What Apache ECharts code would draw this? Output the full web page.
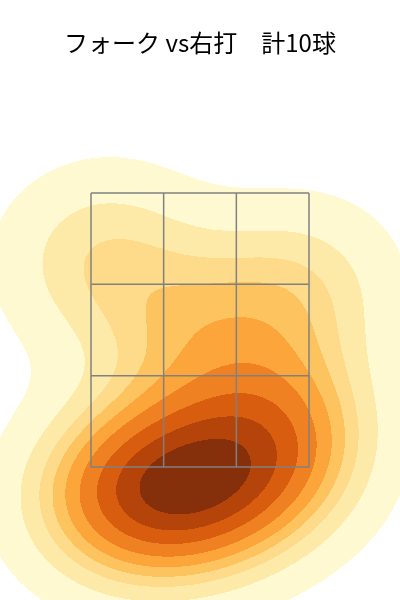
<!DOCTYPE html>
<html>
<head>
<meta charset="utf-8">
<script src="https://cdn.jsdelivr.net/npm/echarts@6/dist/echarts.min.js"></script>
<style>
  html, body { margin: 0; padding: 0; background: #fff; }
  #main { width: 400px; height: 600px; }
</style>
</head>
<body>
<div id="main"></div>
<script>
  // pitch locations (cm) : horizontal / height
  var pitchX = [-20, -3, 19, 15, -18, -12, -6, 0, 7, 16];
  var pitchY = [89, 74, 82, 59, 42, 40, 44, 41, 45, 48];

  // strike zone lines (cm)
  var zoneX = [-21.8, -7.27, 7.27, 21.8];
  var zoneY = [46.6, 64.87, 83.13, 101.4];

  // contour bands, light -> dark
  var bandColors = ['#fff9d2', '#feeaa8', '#fedb8a', '#fdc35f', '#fca53a',
                    '#f08122', '#d95d0e', '#b5440a', '#862f0b'];

  var xRange = [-40, 40];
  var yRange = [20, 120];
  var bwAdjust = [1.4, 0.95];
  var STEP = 0.2;

  // gaussian kde (scott rule)
  function makeKde(xs, ys) {
    var n = xs.length, mx = 0, my = 0;
    for (var i = 0; i < n; i++) { mx += xs[i]; my += ys[i]; }
    mx /= n; my /= n;
    var sxx = 0, syy = 0, sxy = 0;
    for (var i = 0; i < n; i++) {
      sxx += (xs[i] - mx) * (xs[i] - mx);
      syy += (ys[i] - my) * (ys[i] - my);
      sxy += (xs[i] - mx) * (ys[i] - my);
    }
    var f2 = Math.pow(n, -1 / 3);
    var ax = bwAdjust[0], ay = bwAdjust[1];
    var a = sxx / (n - 1) * f2 * ax * ax;
    var d = syy / (n - 1) * f2 * ay * ay;
    var b = sxy / (n - 1) * f2 * ax * ay;
    var det = a * d - b * b;
    var ia = d / det, id = a / det, ib = -b / det;
    var norm = 1 / (2 * Math.PI * Math.sqrt(det) * n);
    var fn = function (x, y) {
      var s = 0;
      for (var i = 0; i < n; i++) {
        var dx = x - xs[i], dy = y - ys[i];
        s += Math.exp(-0.5 * (ia * dx * dx + 2 * ib * dx * dy + id * dy * dy));
      }
      return s * norm;
    };
    fn.bw = [Math.sqrt(a), Math.sqrt(d)];
    return fn;
  }
  var kde = makeKde(pitchX, pitchY);

  // iso-proportion levels (thresh 0.05, 10 levels)
  function getLevels() {
    var cut = 3, g = 200;
    var x0 = Math.min.apply(null, pitchX) - cut * kde.bw[0];
    var x1 = Math.max.apply(null, pitchX) + cut * kde.bw[0];
    var y0 = Math.min.apply(null, pitchY) - cut * kde.bw[1];
    var y1 = Math.max.apply(null, pitchY) + cut * kde.bw[1];
    var vals = [];
    for (var i = 0; i < g; i++)
      for (var j = 0; j < g; j++)
        vals.push(kde(x0 + (x1 - x0) * i / (g - 1), y0 + (y1 - y0) * j / (g - 1)));
    vals.sort(function (p, q) { return q - p; });
    var total = 0;
    vals.forEach(function (v) { total += v; });
    var cum = [], c = 0;
    vals.forEach(function (v) { c += v; cum.push(c / total); });
    var levels = [];
    for (var k = 0; k < 10; k++) {
      var target = 1 - (0.05 + 0.95 * k / 9);
      var idx = 0;
      while (idx < cum.length - 1 && cum[idx] < target) idx++;
      levels.push(vals[idx]);
    }
    return levels;
  }
  var levels = getLevels();

  // one row at a time, runs of the same band
  var segs = [];
  for (var y = yRange[1] - STEP / 2; y > yRange[0]; y -= STEP) {
    var cur = -1, start = xRange[0];
    for (var x = xRange[0]; x < xRange[1] + 1e-9; x += STEP) {
      var band = -2;
      if (x < xRange[1] - 1e-9) {
        band = -1;
        var dv = kde(x + STEP / 2, y);
        for (var k = 0; k < 9; k++) if (dv >= levels[k]) band = k;
      }
      if (band !== cur) {
        if (cur >= 0) segs.push([start, x, y, cur]);
        cur = band; start = x;
      }
    }
  }

  var zoneSegs = [];
  zoneX.forEach(function (zx) { zoneSegs.push([zx, zoneY[0], zx, zoneY[3]]); });
  zoneY.forEach(function (zy) { zoneSegs.push([zoneX[0], zy, zoneX[3], zy]); });

  var chart = echarts.init(document.getElementById('main'));
  chart.setOption({
    animation: false,
    title: {
      text: 'フォーク vs右打\u3000計10球',
      left: 'center',
      top: 26,
      textStyle: { fontFamily: 'Noto Sans CJK JP', fontSize: 24, fontWeight: 'normal', color: '#000' }
    },
    grid: { left: 0, right: 0, top: 100, bottom: 0 },
    xAxis: { type: 'value', min: xRange[0], max: xRange[1], show: false },
    yAxis: { type: 'value', min: yRange[0], max: yRange[1], show: false },
    series: [
      {
        type: 'custom',
        progressive: 0,
        silent: true,
        encode: { x: [0, 1], y: 2 },
        data: segs,
        renderItem: function (params, api) {
          var p0 = api.coord([api.value(0), api.value(2) + STEP / 2]);
          var p1 = api.coord([api.value(1), api.value(2) - STEP / 2]);
          return {
            type: 'rect',
            shape: { x: p0[0], y: p0[1], width: p1[0] - p0[0], height: p1[1] - p0[1] },
            style: { fill: bandColors[api.value(3)] }
          };
        }
      },
      {
        type: 'custom',
        silent: true,
        encode: { x: [0, 2], y: [1, 3] },
        data: zoneSegs,
        renderItem: function (params, api) {
          var p0 = api.coord([api.value(0), api.value(1)]);
          var p1 = api.coord([api.value(2), api.value(3)]);
          return {
            type: 'line',
            shape: { x1: p0[0], y1: p0[1], x2: p1[0], y2: p1[1] },
            style: { stroke: '#808080', lineWidth: 1.5 }
          };
        }
      }
    ]
  });
</script>
</body>
</html>
